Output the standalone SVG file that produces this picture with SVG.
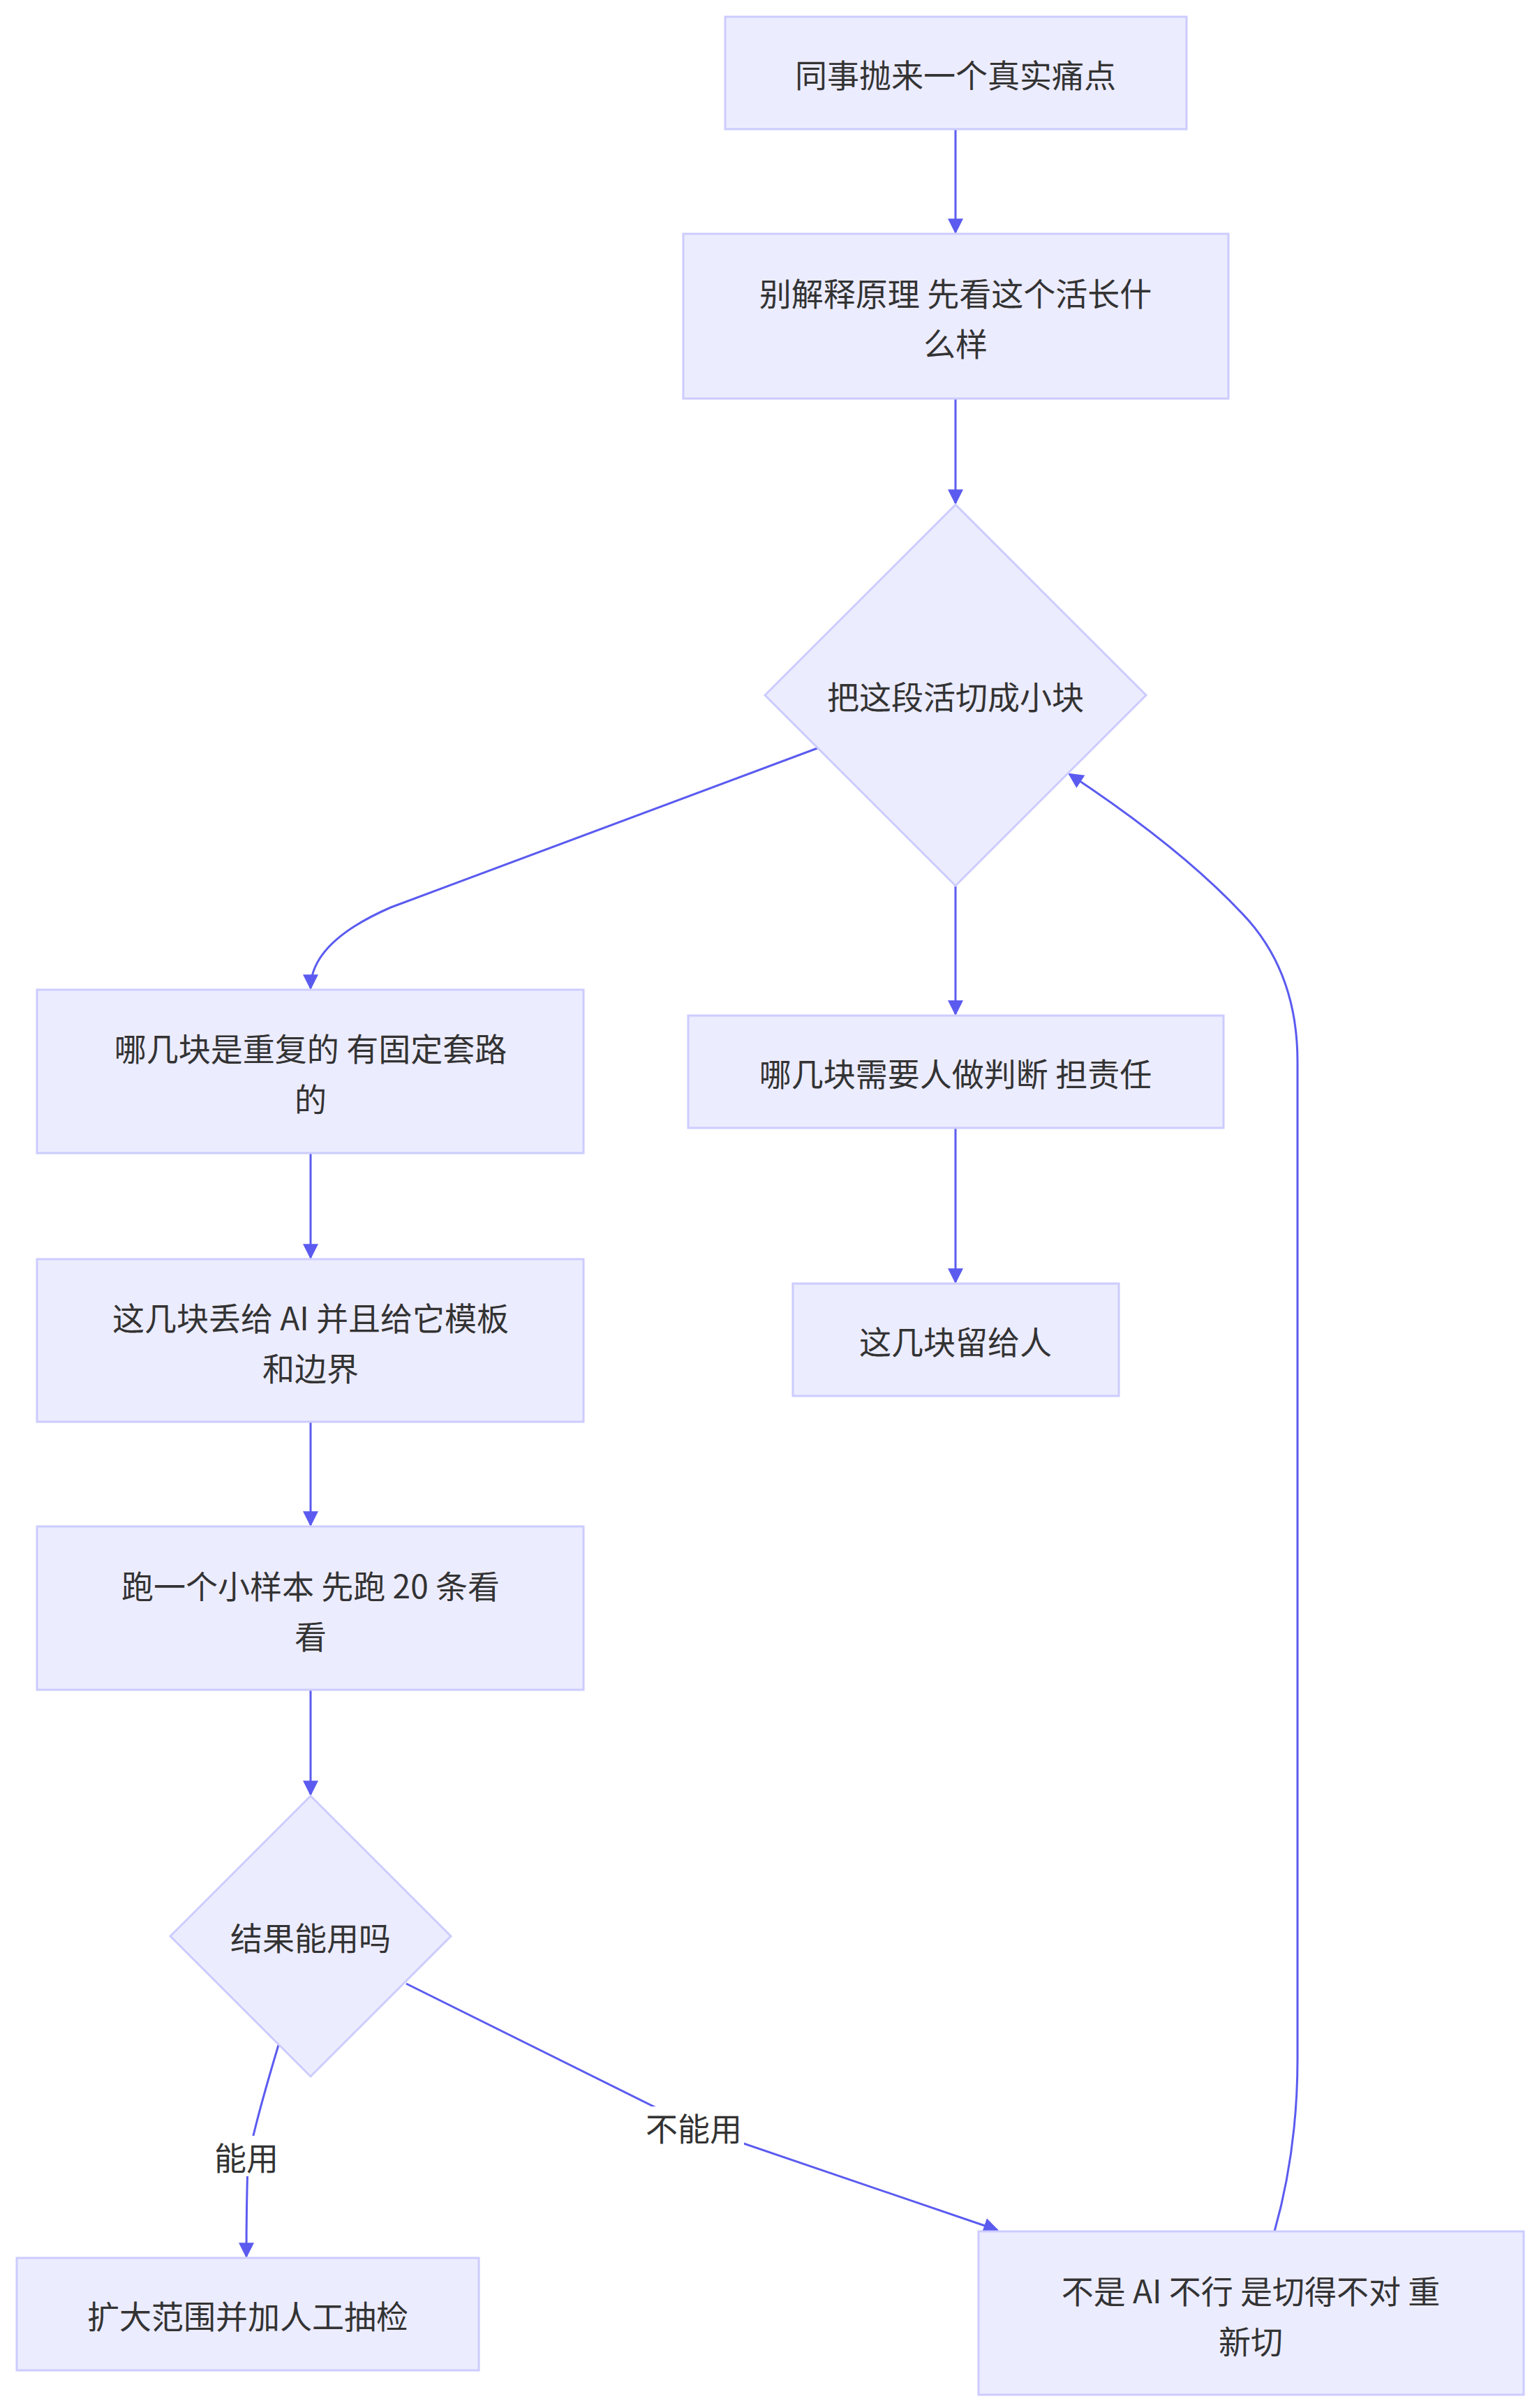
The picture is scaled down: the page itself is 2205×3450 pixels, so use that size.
<svg xmlns="http://www.w3.org/2000/svg" width="2205" height="3450" viewBox="0 0 2205 3450">
<style>
.n{fill:#ECECFF;stroke:#CCCCFF;stroke-width:3}
.t{font-family:"Noto Sans CJK SC","Noto Sans",sans-serif;font-size:46px;fill:#333;text-anchor:middle;dominant-baseline:central}
.e{fill:none;stroke:#5b5bf0;stroke-width:3;marker-end:url(#a)}
.lb{fill:#ffffff}
</style>
<defs><marker id="a" viewBox="0 0 10 10" refX="9" refY="5" markerWidth="22" markerHeight="22" markerUnits="userSpaceOnUse" orient="auto"><path d="M0,0L10,5L0,10z" fill="#5b5bf0"/></marker></defs>
<rect width="2205" height="3450" fill="#fff"/>
<g id="connectors">
<path class="e" d="M1369,185L1369,333"/>
<path class="e" d="M1369,571L1369,721"/>
<path class="e" d="M1171,1072L560,1300Q445,1350 445,1416"/>
<path class="e" d="M1369,1266L1369,1453"/>
<path class="e" d="M1369,1616L1369,1837"/>
<path class="e" d="M445,1652L445,1802"/>
<path class="e" d="M445,2037L445,2185"/>
<path class="e" d="M445,2421L445,2571"/>
<path class="e" d="M399,2930Q360,3060 355,3100Q353,3160 353,3233"/>
<path class="e" d="M582,2842L995,3047L1429,3195"/>
<path class="e" d="M1826,3197Q1859,3080 1859,2950L1859,1521Q1859,1400 1790,1320Q1700,1220 1532,1109"/>
<rect class="lb" x="300" y="3060" width="106" height="58"/>
<text class="t" x="353" y="3089">能用</text>
<rect class="lb" x="922" y="3018" width="144" height="58"/>
<text class="t" x="994" y="3047">不能用</text>
</g>
<g id="n1"><rect class="n" x="1039" y="24" width="661" height="161"/><text class="t" x="1369" y="105">同事抛来一个真实痛点</text></g>
<g id="n2"><rect class="n" x="979" y="335" width="781" height="236"/><text class="t" x="1369" y="418">别解释原理 先看这个活长什</text><text class="t" x="1369" y="490">么样</text></g>
<g id="n3"><polygon class="n" points="1369,723 1642,996 1369,1269 1096,996"/><text class="t" x="1369" y="996">把这段活切成小块</text></g>
<g id="n4"><rect class="n" x="53" y="1418" width="783" height="234"/><text class="t" x="445" y="1500">哪几块是重复的 有固定套路</text><text class="t" x="445" y="1572">的</text></g>
<g id="n5"><rect class="n" x="986" y="1455" width="767" height="161"/><text class="t" x="1369" y="1536">哪几块需要人做判断 担责任</text></g>
<g id="n6"><rect class="n" x="1136" y="1839" width="467" height="161"/><text class="t" x="1369" y="1920">这几块留给人</text></g>
<g id="n7"><rect class="n" x="53" y="1804" width="783" height="233"/><text class="t" x="445" y="1886">这几块丢给 AI 并且给它模板</text><text class="t" x="445" y="1958">和边界</text></g>
<g id="n8"><rect class="n" x="53" y="2187" width="783" height="234"/><text class="t" x="445" y="2270">跑一个小样本 先跑 20 条看</text><text class="t" x="445" y="2342">看</text></g>
<g id="n9"><polygon class="n" points="445,2573 646,2774 445,2975 244,2774"/><text class="t" x="445" y="2774">结果能用吗</text></g>
<g id="n10"><rect class="n" x="24" y="3235" width="662" height="161"/><text class="t" x="355" y="3316">扩大范围并加人工抽检</text></g>
<g id="n11"><rect class="n" x="1402" y="3197" width="781" height="234"/><text class="t" x="1792" y="3280">不是 AI 不行 是切得不对 重</text><text class="t" x="1792" y="3352">新切</text></g>
</svg>
